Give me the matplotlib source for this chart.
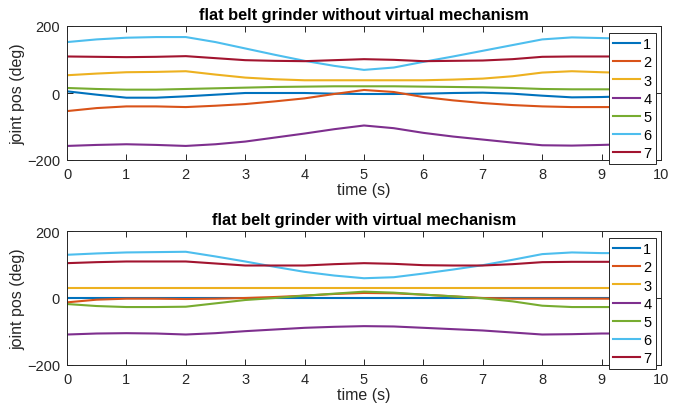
import numpy as np
import matplotlib.pyplot as plt

plt.rcParams['font.family'] = ['Liberation Sans', 'DejaVu Sans']

# time samples (s)
t = [0, 0.5, 1, 1.5, 2, 2.5, 3, 3.5, 4, 4.5, 5, 5.5, 6, 6.5, 7, 7.5, 8, 8.5, 9, 9.2]

# joint positions (deg), without virtual mechanism
top_j1 = [5, -5, -14, -14, -10, -5, 0, 0, 0, -2, -3, -3, -2, 0, 1, -2, -8, -13, -12, -11]
top_j2 = [-54, -45, -40, -40, -42, -38, -33, -25, -16, -3, 9, 3, -12, -22, -30, -36, -40, -42, -42, -42]
top_j3 = [53, 58, 62, 63, 65, 55, 46, 41, 38, 38, 38, 38, 38, 40, 43, 50, 61, 65, 62, 61]
top_j4 = [-158, -155, -153, -155, -158, -153, -145, -133, -121, -108, -97, -105, -119, -130, -139, -148, -156, -157, -155, -154]
top_j5 = [15, 12, 10, 10, 12, 14, 16, 18, 19, 20, 20, 20, 19, 18, 17, 15, 12, 11, 11, 11]
top_j6 = [152, 160, 165, 167, 167, 152, 133, 114, 96, 81, 69, 76, 93, 109, 126, 143, 160, 166, 164, 163]
top_j7 = [109, 108, 107, 108, 110, 104, 98, 96, 95, 98, 101, 99, 95, 96, 97, 101, 108, 109, 109, 109]

# joint positions (deg), with virtual mechanism
bot_j1 = [1, 1, 1, 1, 1, 1, 1, 1, 1, 1, 1, 1, 1, 1, 1, 1, 1, 1, 1, 1]
bot_j2 = [-13, -5, -2, -2, -3, -2, 0, 3, 7, 12, 15, 14, 10, 5, 0, -2, -2, -2, -2, -2]
bot_j3 = [30, 30, 30, 30, 30, 30, 30, 30, 30, 30, 30, 30, 30, 30, 30, 30, 30, 30, 30, 30]
bot_j4 = [-109, -106, -105, -106, -109, -105, -99, -94, -89, -86, -84, -85, -89, -93, -97, -103, -109, -108, -106, -106]
bot_j5 = [-18, -24, -27, -27, -26, -16, -6, 0, 7, 13, 19, 16, 10, 5, -1, -10, -23, -27, -27, -27]
bot_j6 = [129, 133, 136, 137, 138, 124, 109, 93, 78, 67, 59, 62, 73, 85, 98, 114, 131, 136, 134, 134]
bot_j7 = [104, 107, 109, 109, 109, 103, 97, 97, 97, 101, 104, 102, 98, 97, 97, 101, 107, 108, 108, 108]

labels = ['1', '2', '3', '4', '5', '6', '7']
colors = ['#0072BD', '#D95319', '#EDB120', '#7E2F8E', '#77AC30', '#4DBEEE', '#A2142F']
titles = ['flat belt grinder without virtual mechanism',
          'flat belt grinder with virtual mechanism']

top_data = [top_j1, top_j2, top_j3, top_j4, top_j5, top_j6, top_j7]
bot_data = [bot_j1, bot_j2, bot_j3, bot_j4, bot_j5, bot_j6, bot_j7]

fig = plt.figure(figsize=(6.79, 4.14), dpi=100)
ax1 = fig.add_axes([67/679, 1-161/414, 594/679, 134/414])
ax2 = fig.add_axes([67/679, 1-366/414, 594/679, 134/414])
txt = '#262626'

for ax, data, title, legtop in [(ax1, top_data, titles[0], 34), (ax2, bot_data, titles[1], 239)]:
    for y, c, lab in zip(data, colors, labels):
        ax.plot(t, y, color=c, lw=1.5, label=lab)
    ax.set_xlim(0, 10)
    ax.set_ylim(-200, 200)
    ax.set_xticks(np.arange(0, 11, 1))
    ax.set_yticks([-200, 0, 200])
    ax.tick_params(direction='in', length=4, width=0.7, top=True, right=True,
                   labelsize=10.5, colors=txt, pad=5)
    for sp in ax.spines.values():
        sp.set_color(txt)
        sp.set_linewidth(0.7)
    ax.set_title(title, fontsize=11.8, fontweight='bold', color='black', pad=5)
    ax.set_xlabel('time (s)', fontsize=11.5, color=txt, labelpad=1)
    ax.set_ylabel('joint pos (deg)', fontsize=11.5, color=txt, labelpad=1)
    leg = ax.legend(loc='upper left', bbox_to_anchor=(609/679, 1-legtop/414),
                    bbox_transform=fig.transFigure, fontsize=10.5, frameon=True,
                    fancybox=False, framealpha=1, edgecolor=txt, borderpad=0.3,
                    labelspacing=0.28, handlelength=1.8, handletextpad=0.25,
                    borderaxespad=0)
    leg.get_frame().set_linewidth(0.7)

fig.savefig('out.png', dpi=100)
